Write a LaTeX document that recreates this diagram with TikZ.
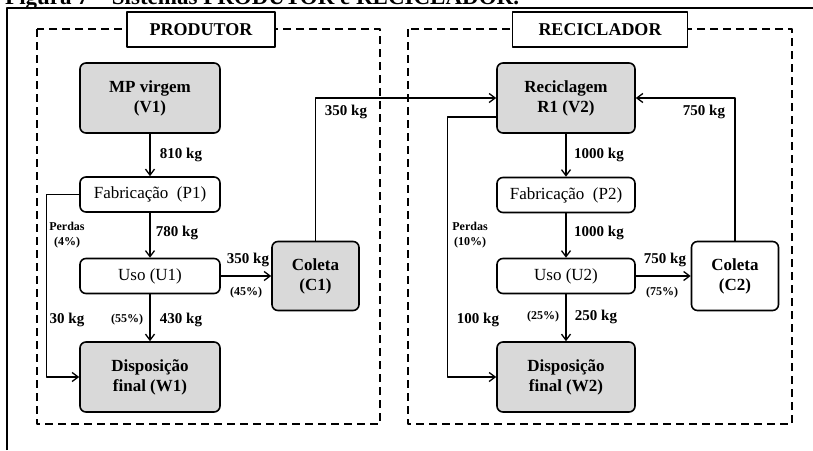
\documentclass[tikz,border=0pt]{standalone}
\usepackage{fontspec}
\setmainfont{Liberation Serif}
\usetikzlibrary{arrows.meta}

\tikzset{
	caixa/.style={draw,line width=1.6pt,rounded corners=6pt,minimum width=140pt,minimum height=35pt,inner sep=0pt,align=center,font=\fontsize{17}{19}\selectfont},
	cinza/.style={caixa,fill=gray!30,minimum height=70pt,font=\fontsize{17}{20}\selectfont\bfseries},
	coleta/.style={caixa,minimum width=87pt,minimum height=69pt,font=\fontsize{17}{20}\selectfont\bfseries},
	setor/.style={draw,dash pattern=on 8pt off 5pt,line width=1.5pt},
	titulo/.style={draw,fill=white,line width=1.5pt,minimum width=148pt,minimum height=35pt,font=\fontsize{18}{19}\selectfont\bfseries},
	fluxo/.style={line width=1.3pt,-{Straight Barb[length=6pt,width=9pt,line width=1.3pt]}},
	rotulo/.style={inner sep=0pt,font=\fontsize{15}{17}\selectfont\bfseries},
	nota/.style={inner sep=0pt,align=center,font=\fontsize{12}{15}\selectfont\bfseries}
}

\begin{document}
\begin{tikzpicture}[x=1pt,y=-1pt,line join=round]
		\useasboundingbox (0,0) rectangle (813,450);
		% legenda cortada e moldura da tabela
		\node[anchor=base west,inner sep=0pt,font=\fontsize{23}{25}\selectfont\bfseries] (legenda) at (5,4) {Figura 7 – Sistemas PRODUTOR e RECICLADOR.};
		\draw[line width=2pt] (7,450) -- (7,8) -- (813,8);
		% setores
		\draw[setor] (37,29) rectangle (380,424);
		\draw[setor] (408,29) rectangle (792,424);
		\node[titulo] (prod) at (201,29.5) {PRODUTOR};
		\node[titulo,minimum width=175pt] (recic) at (600,29.5) {RECICLADOR};
		% produtor
		\node[cinza] (V1) at (150,98) {MP virgem\\(V1)};
		\node[caixa] (P1) at (150,194.5) {Fabricação~ (P1)};
		\node[caixa] (U1) at (150,276) {Uso (U1)};
		\node[cinza] (W1) at (150,377) {Disposição\\final (W1)};
		\node[coleta,fill=gray!30] (C1) at (315.5,276) {Coleta\\(C1)};
		% reciclador
		\node[cinza,minimum width=138pt] (R1) at (566,98) {Reciclagem\\R1 (V2)};
		\node[caixa,minimum width=138pt] (P2) at (566,195) {Fabricação~ (P2)};
		\node[caixa,minimum width=138pt] (U2) at (566,276) {Uso (U2)};
		\node[cinza,minimum width=138pt] (W2) at (566,377) {Disposição\\final (W2)};
		\node[coleta] (C2) at (735,276) {Coleta\\(C2)};
		% fluxos
		\draw[fluxo] (V1) -- (P1);
		\draw[fluxo] (P1) -- (U1);
		\draw[fluxo] (U1) -- (W1);
		\draw[fluxo] (U1.east) -- (U1.east -| C1.west);
		\draw[fluxo] (P1.west) -- ++(-33,0) |- (W1.west);
		\draw[fluxo] (C1.north) |- (R1.west);
		\draw[fluxo] (R1) -- (P2);
		\draw[fluxo] (P2) -- (U2);
		\draw[fluxo] (U2) -- (W2);
		\draw[fluxo] (U2.east) -- (U2.east -| C2.west);
		\draw[fluxo] ([yshift=-19pt]R1.west) -- ++(-49,0) |- (W2.west);
		\draw[fluxo] (C2.north) |- (R1.east);
		% rotulos
		\foreach \n/\p/\t in {a/{181,155}/810 kg, b/{177,233}/780 kg, c/{248,260}/350 kg, d/{181,320}/430 kg, e/{67,320}/30 kg, f/{346,112}/350 kg,
			g/{599,155}/1000 kg, h/{599,233}/1000 kg, i/{665,260}/750 kg, j/{596,317}/250 kg, k/{478,320}/100 kg, l/{704,112}/750 kg}
			\node[rotulo] (\n) at (\p) {\t};
		\foreach \n/\p/\t in {m/{246,293}/(45\%), n/{127,320}/(55\%), o/{67,235}/Perdas\\(4\%),
			p/{662,293}/(75\%), q/{543,317}/(25\%), r/{470,235}/Perdas\\(10\%)}
			\node[nota] (\n) at (\p) {\t};
	\end{tikzpicture}
\end{document}
